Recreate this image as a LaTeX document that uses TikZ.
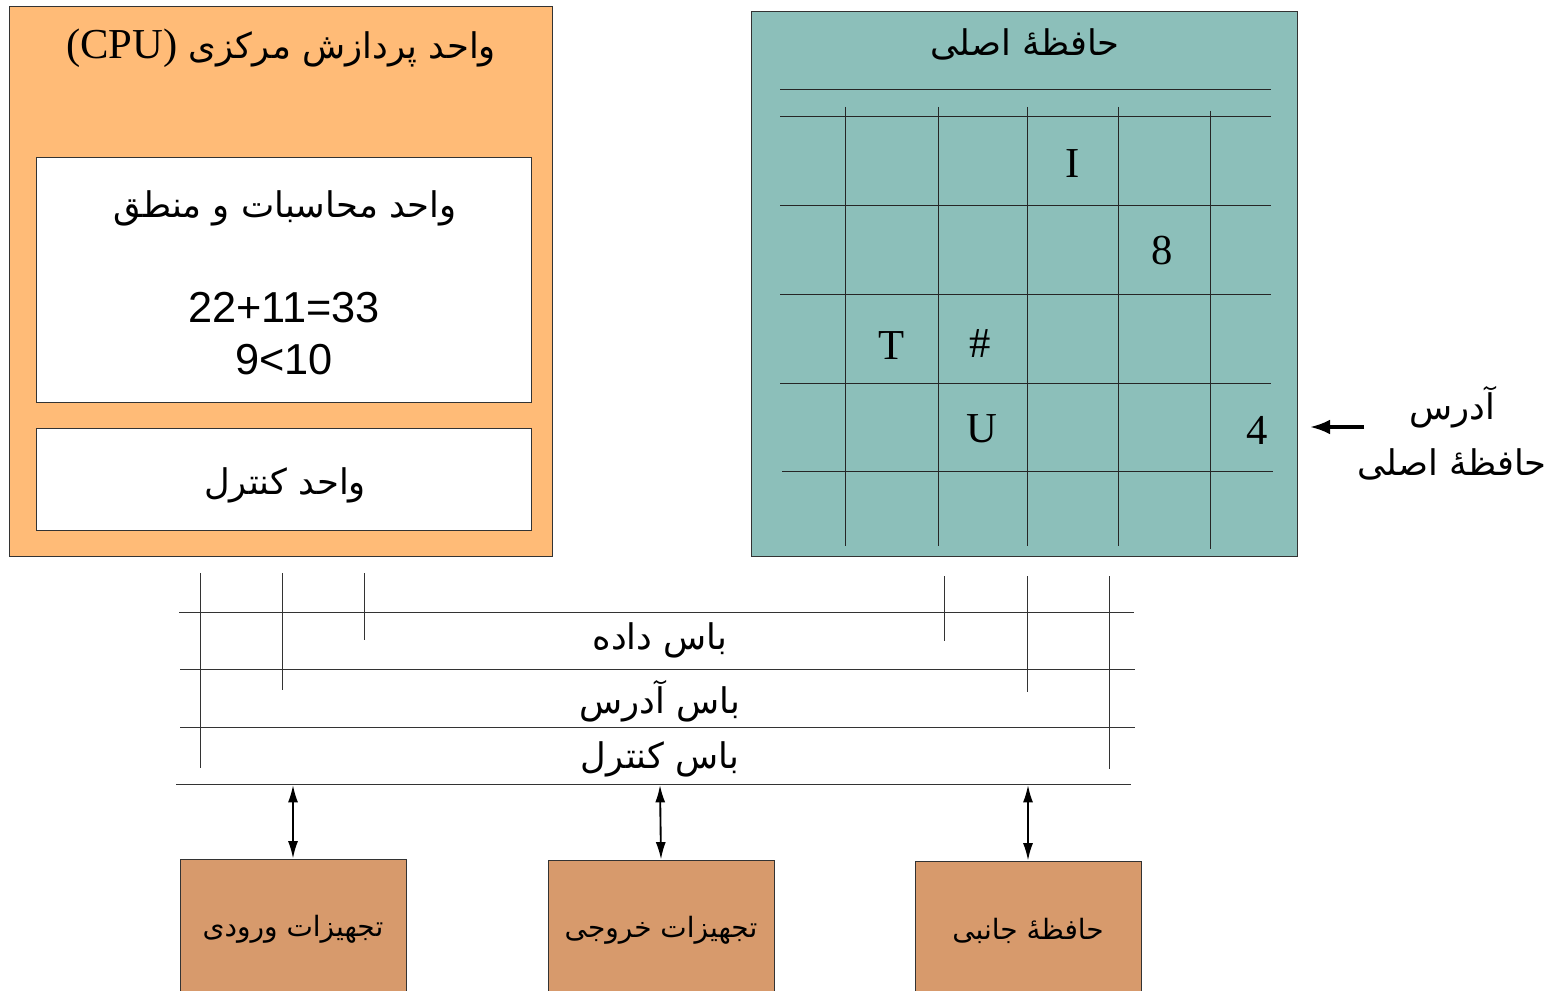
\documentclass[tikz,border=0pt]{standalone}
\usepackage{fontspec}
\setmainfont{Liberation Serif}
\newfontfamily\arabicfont[Script=Arabic]{DejaVu Sans}
\newfontfamily\numfont{Liberation Sans}
\TeXXeTstate=1
\usetikzlibrary{arrows.meta}
\definecolor{cpuorange}{HTML}{FFBB77}
\definecolor{memteal}{HTML}{8CBFBA}
\definecolor{devbrown}{HTML}{D79A6C}
\definecolor{linegray}{HTML}{333333}
\begin{document}
\begin{tikzpicture}[x=0.75pt,y=-0.75pt,
  boxstyle/.style={draw=linegray, line width=0.75pt, inner sep=0pt, rectangle},
  artext/.style={font=\arabicfont\fontsize{26.5}{32}\selectfont, inner sep=0pt},
  devtext/.style={font=\arabicfont\fontsize{21}{26}\selectfont},
  serifbig/.style={font=\fontsize{32}{36}\selectfont, inner sep=0pt},
  gridline/.style={draw=black!85, line width=0.75pt},
  busline/.style={draw=black!80, line width=0.75pt},
  biarrow/.style={draw=black, line width=1.4pt, {Latex[length=13pt,width=7.5pt]}-{Latex[length=13pt,width=7.5pt]}},
  addrarrow/.style={draw=black, line width=2.4pt, -{Latex[length=15pt,width=11pt]}}
]
\clip (0,0) rectangle (1552,991);
\fill[white] (0,0) rectangle (1552,991);

% CPU
\node[boxstyle, fill=cpuorange, minimum width=407.25pt, minimum height=411.75pt] (cpu) at (280.5,281.5) {};
\node[artext] (cputitle) at (281,48) {\beginR واحد پردازش مرکزی \beginL{\rmfamily\fontsize{32}{36}\selectfont (CPU)}\endL\endR};
\node[boxstyle, fill=white, minimum width=371.25pt, minimum height=183pt] (alu) at (283.5,280) {};
\node[artext] (alutitle) at (285,208) {\beginR واحد محاسبات و منطق\endR};
\node[font=\numfont\fontsize{32.5}{39}\selectfont, align=center, inner sep=0pt] (aluex) at (284,334) {22+11=33\\9<10};
\node[boxstyle, fill=white, minimum width=371.25pt, minimum height=76.5pt] (cu) at (283.5,479) {};
\node[artext] (cutitle) at (285,485) {\beginR واحد کنترل\endR};

% Main memory
\node[boxstyle, fill=memteal, minimum width=409.5pt, minimum height=408pt] (mem) at (1024,284) {};
\node[artext] (memtitle) at (1025,44) {\beginR حافظهٔ اصلی\endR};
\draw[gridline] (780,90) -- (1271,90);
\draw[gridline] (780,117) -- (1271,117);
\draw[gridline] (780,206) -- (1271,206);
\draw[gridline] (780,294) -- (1271,294);
\draw[gridline] (780,383) -- (1271,383);
\draw[gridline] (782,471) -- (1273,471);
\draw[gridline] (845,107) -- (845,546);
\draw[gridline] (938,107) -- (938,546);
\draw[gridline] (1027,107) -- (1027,546);
\draw[gridline] (1118,107) -- (1118,546);
\draw[gridline] (1210,111) -- (1210,549);
\node[serifbig] (cI) at (1073,164) {I};
\node[serifbig] (c8) at (1162,251) {8};
\node[serifbig] (cT) at (892,346) {T};
\node[serifbig] (cH) at (980,344) {\#};
\node[serifbig] (cU) at (982,429) {U};
\node[serifbig] (c4) at (1257,430) {4};

% Address label
\node[artext, align=center] (addr) at (1452,433) {\beginR آدرس\endR\\[10pt]\beginR حافظهٔ اصلی\endR};
\coordinate (arrS) at (1364,427);
\coordinate (arrE) at (1310,427);
\draw[addrarrow] (arrS) -- (arrE);

% Buses
\coordinate (bA1) at (179,612); \coordinate (bA2) at (1134,612);
\coordinate (bB1) at (180,669); \coordinate (bB2) at (1135,669);
\coordinate (bC1) at (180,727); \coordinate (bC2) at (1135,727);
\coordinate (bD1) at (176,784); \coordinate (bD2) at (1131,784);
\draw[busline] (bA1) -- (bA2);
\draw[busline] (bB1) -- (bB2);
\draw[busline] (bC1) -- (bC2);
\draw[busline] (bD1) -- (bD2);
\draw[busline] (200,573) -- (200,768);
\draw[busline] (282,573) -- (282,690);
\draw[busline] (364,573) -- (364,640);
\draw[busline] (944,576) -- (944,641);
\draw[busline] (1027,576) -- (1027,692);
\draw[busline] (1109,576) -- (1109,769);
\node[artext] (bus1) at (660,640) {\beginR باس داده\endR};
\node[artext] (bus2) at (660,701) {\beginR باس آدرس\endR};
\node[artext] (bus3) at (660,759) {\beginR باس کنترل\endR};

% Devices
\node[boxstyle, fill=devbrown, minimum width=169.5pt, minimum height=105.75pt, devtext] (dev1) at (293,929.5) {\beginR تجهیزات ورودی\endR};
\node[boxstyle, fill=devbrown, minimum width=169.5pt, minimum height=105pt, devtext] (dev2) at (661,930) {\beginR تجهیزات خروجی\endR};
\node[boxstyle, fill=devbrown, minimum width=169.5pt, minimum height=104.25pt, devtext] (dev3) at (1028,930.5) {\beginR حافظهٔ جانبی\endR};
\coordinate (p1) at (293,785);
\coordinate (p2) at (660,785);
\coordinate (p3) at (1028,785);
\draw[biarrow] (p1) -- (dev1.north);
\draw[biarrow] (p2) -- (dev2.north);
\draw[biarrow] (p3) -- (dev3.north);
\end{tikzpicture}
\end{document}
